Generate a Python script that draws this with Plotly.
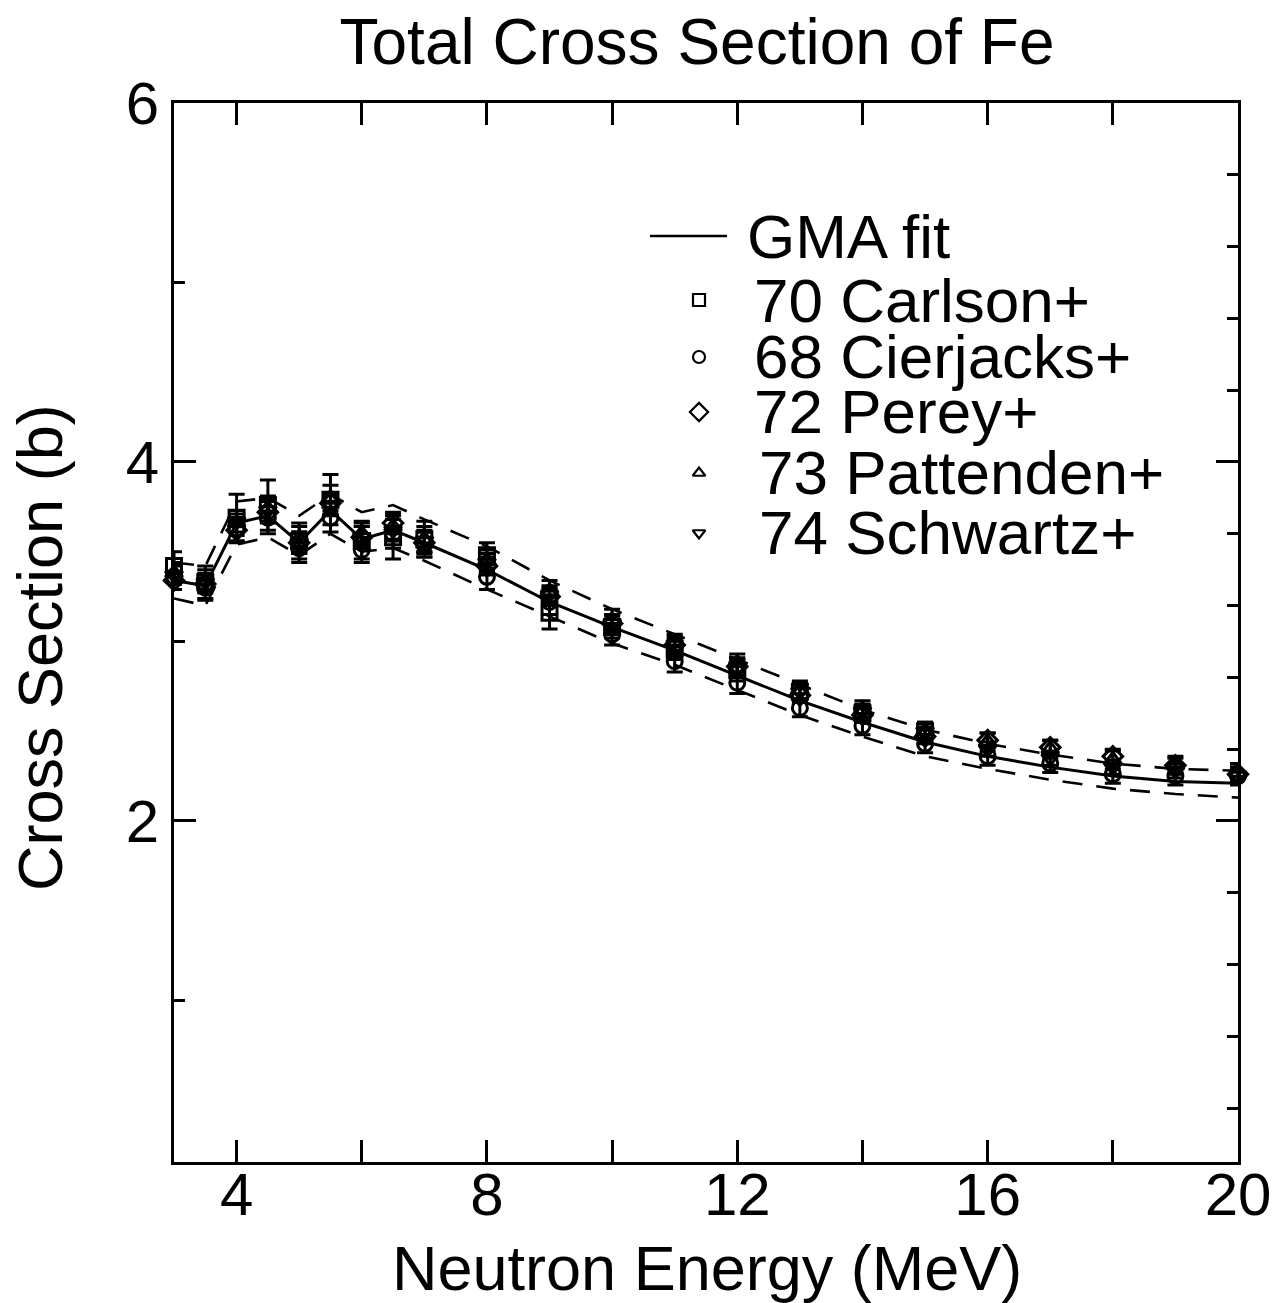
import plotly.graph_objects as go

# ---------------- data ----------------
energy = [3, 3.5, 4, 4.5, 5, 5.5, 6, 6.5, 7, 8, 9, 10, 11, 12, 13, 14, 15, 16, 17, 18, 19, 20]
gma_fit = [3.34, 3.31, 3.66, 3.70, 3.55, 3.73, 3.57, 3.62, 3.55, 3.40, 3.22, 3.08, 2.95, 2.81,
           2.67, 2.55, 2.44, 2.36, 2.30, 2.25, 2.22, 2.21]
gma_upper = [3.44, 3.42, 3.78, 3.80, 3.70, 3.82, 3.72, 3.76, 3.68, 3.53, 3.34, 3.18, 3.04, 2.90,
             2.76, 2.62, 2.51, 2.43, 2.37, 2.32, 2.29, 2.28]
gma_lower = [3.24, 3.20, 3.54, 3.58, 3.48, 3.60, 3.50, 3.52, 3.45, 3.29, 3.14, 2.99, 2.87, 2.73,
             2.59, 2.47, 2.36, 2.29, 2.23, 2.18, 2.15, 2.13]

carlson_e = [3, 3.5, 4, 4.5, 5, 5.5, 6, 6.5, 7, 8, 9, 10, 11, 12, 13, 14, 15]
carlson_v = [3.42, 3.33, 3.69, 3.76, 3.56, 3.79, 3.56, 3.58, 3.57, 3.48, 3.16, 3.08, 2.96, 2.84,
             2.72, 2.60, 2.50]
carlson_err = [0.08, 0.09, 0.13, 0.14, 0.10, 0.14, 0.10, 0.12, 0.10, 0.07, 0.09, 0.06, 0.06, 0.06,
               0.05, 0.05, 0.05]

cierjacks_e = energy
cierjacks_v = [3.36, 3.30, 3.63, 3.69, 3.52, 3.69, 3.51, 3.60, 3.54, 3.36, 3.22, 3.04, 2.89, 2.77,
               2.63, 2.53, 2.43, 2.36, 2.32, 2.26, 2.25, 2.25]
cierjacks_err = [0.07, 0.07, 0.08, 0.09, 0.08, 0.08, 0.07, 0.08, 0.07, 0.07, 0.07, 0.06, 0.06, 0.06,
                 0.05, 0.05, 0.05, 0.05, 0.05, 0.05, 0.05, 0.05]

perey_e = energy
perey_v = [3.34, 3.32, 3.62, 3.72, 3.55, 3.77, 3.58, 3.66, 3.55, 3.42, 3.25, 3.10, 2.98, 2.86,
           2.70, 2.59, 2.47, 2.45, 2.41, 2.36, 2.31, 2.26]
perey_err = [0.05, 0.05, 0.06, 0.06, 0.06, 0.06, 0.06, 0.06, 0.06, 0.05, 0.05, 0.05, 0.05, 0.05,
             0.04, 0.04, 0.04, 0.04, 0.04, 0.04, 0.04, 0.04]

pattenden_e = energy
pattenden_v = [3.38, 3.34, 3.66, 3.74, 3.57, 3.80, 3.60, 3.64, 3.57, 3.45, 3.28, 3.12, 2.99, 2.88,
               2.73, 2.62, 2.50, 2.44, 2.40, 2.34, 2.31, 2.27]
pattenden_err = [0.06, 0.06, 0.07, 0.07, 0.07, 0.07, 0.07, 0.07, 0.07, 0.06, 0.06, 0.06, 0.05, 0.05,
                 0.05, 0.05, 0.05, 0.05, 0.05, 0.05, 0.05, 0.05]

schwartz_e = energy
schwartz_v = [3.37, 3.33, 3.67, 3.73, 3.55, 3.76, 3.58, 3.62, 3.56, 3.44, 3.26, 3.10, 2.96, 2.85,
              2.72, 2.61, 2.50, 2.40, 2.35, 2.30, 2.28, 2.25]
schwartz_err = [0.05, 0.05, 0.06, 0.06, 0.06, 0.06, 0.06, 0.06, 0.06, 0.05, 0.05, 0.05, 0.05, 0.05,
                0.04, 0.04, 0.04, 0.04, 0.04, 0.04, 0.04, 0.04]

legend_labels = ["GMA fit", "70 Carlson+", "68 Cierjacks+", "72 Perey+", "73 Pattenden+", "74 Schwartz+"]
x_tickvals = [4, 6, 8, 10, 12, 14, 16, 18, 20]
x_ticktext = ["4", "", "8", "", "12", "", "16", "", "20"]
y_tickvals = [2, 4, 6]

# ---------------- figure ----------------
FONT = "Liberation Sans, Arial, Helvetica, sans-serif"
W, H = 1276, 1303
L, R, T, B = 174, 1238, 103, 1162


def px_to_paper(px, py):
    return (px - L) / (R - L), (B - py) / (B - T)


fig = go.Figure()

fig.add_trace(go.Scatter(x=energy, y=gma_upper, mode="lines",
                         line=dict(color="black", width=2.6, dash="20px,14px"), showlegend=False))
fig.add_trace(go.Scatter(x=energy, y=gma_lower, mode="lines", yaxis="y2",
                         line=dict(color="black", width=2.6, dash="20px,14px"), showlegend=False))
fig.add_trace(go.Scatter(x=energy, y=gma_fit, mode="lines",
                         line=dict(color="black", width=3), showlegend=False))

series = [
    (carlson_e, carlson_v, carlson_err, "square-open"),
    (cierjacks_e, cierjacks_v, cierjacks_err, "circle-open"),
    (perey_e, perey_v, perey_err, "diamond-open"),
    (pattenden_e, pattenden_v, pattenden_err, "triangle-up-open"),
    (schwartz_e, schwartz_v, schwartz_err, "triangle-down-open"),
]
for xs, ys, es, sym in series:
    fig.add_trace(go.Scatter(
        x=xs, y=ys, mode="markers",
        marker=dict(symbol=sym, size=15, color="black", line=dict(width=3, color="black")),
        error_y=dict(type="data", array=es, visible=True, color="black", thickness=3, width=8),
        showlegend=False, cliponaxis=False))

# ---- manual legend (pixel coordinate overlay axes) ----
leg_sym = ["square-open", "circle-open", "diamond-open", "triangle-up-open", "triangle-down-open"]
leg_y = [300, 357, 412, 473, 533]
leg_size = [12, 12, 14, 11, 11]
for sym, yy, sz in zip(leg_sym, leg_y, leg_size):
    fig.add_trace(go.Scatter(x=[699], y=[yy], mode="markers", xaxis="x2", yaxis="y3",
                             marker=dict(symbol=sym, size=sz, color="black",
                                         line=dict(width=2.2, color="black")),
                             showlegend=False, cliponaxis=False))
fig.add_trace(go.Scatter(x=[650, 727], y=[236, 236], mode="lines", xaxis="x2", yaxis="y3",
                         line=dict(color="black", width=2.5), showlegend=False))

annotations = []
text_x = [745, 752, 752, 752, 757, 757]
text_y = [236, 300, 356, 411, 472, 532]
for lab, tx, ty in zip(legend_labels, text_x, text_y):
    annotations.append(dict(x=tx, y=ty, xref="x2", yref="y3", text=lab, showarrow=False,
                            xanchor="left", yanchor="middle",
                            font=dict(family=FONT, size=62, color="black")))

# axis titles placed at their reference positions
xt_x, xt_y = px_to_paper(707, 1268)
annotations.append(dict(x=xt_x, y=xt_y, xref="paper", yref="paper",
                        text="Neutron Energy (MeV)", showarrow=False,
                        xanchor="center", yanchor="middle",
                        font=dict(family=FONT, size=63, color="black")))
yt_x, yt_y = px_to_paper(40, 648)
annotations.append(dict(x=yt_x, y=yt_y, xref="paper", yref="paper",
                        text="Cross Section (b)", showarrow=False, textangle=-90,
                        xanchor="center", yanchor="middle",
                        font=dict(family=FONT, size=63, color="black")))

axis_common = dict(showgrid=False, zeroline=False, linecolor="black", linewidth=3,
                   ticks="inside", tickcolor="black", tickwidth=2.5, automargin=False)

fig.update_layout(
    width=W, height=H,
    margin=dict(l=L, r=W - R, t=T, b=H - B, pad=0),
    paper_bgcolor="white", plot_bgcolor="white",
    font=dict(family=FONT, size=60, color="black"),
    title=dict(text="Total Cross Section of Fe", x=697 / W, xanchor="center",
               y=1 - 42 / H, yanchor="middle", yref="container",
               font=dict(family=FONT, size=64, color="black")),
    xaxis=dict(range=[3, 20], tickvals=x_tickvals, ticktext=x_ticktext, ticklen=22,
               mirror="ticks", tickfont=dict(size=60), ticklabelstandoff=-22, **axis_common),
    yaxis=dict(range=[0.1, 6], tickvals=y_tickvals, ticklen=22, mirror=True,
               minor=dict(tickvals=[1, 3, 5], ticklen=11, ticks="inside", tickcolor="black",
                          tickwidth=2.5),
               tickfont=dict(size=60), **axis_common),
    yaxis2=dict(range=[0.1, 6], overlaying="y", side="right", tickvals=[2, 4], ticklen=22,
                showticklabels=False,
                minor=dict(dtick=0.4, tick0=0, ticklen=11, ticks="inside", tickcolor="black",
                           tickwidth=2.5),
                **axis_common),
    xaxis2=dict(range=[L, R], overlaying="x", visible=False),
    yaxis3=dict(range=[B, T], overlaying="y", visible=False),
    annotations=annotations,
)

fig.write_html("out.html")
